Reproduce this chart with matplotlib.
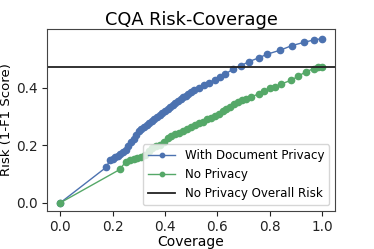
import matplotlib
matplotlib.use('Agg')
import matplotlib.pyplot as plt

# coverage / risk points
cov_doc = [0.0, 0.175, 0.19, 0.20, 0.21, 0.22, 0.23, 0.24, 0.25, 0.26, 0.27, 0.28,
           0.29, 0.30, 0.31, 0.32, 0.33, 0.34, 0.35, 0.36, 0.37, 0.38, 0.39, 0.40,
           0.41, 0.42, 0.43, 0.44, 0.45, 0.46, 0.47, 0.48, 0.49, 0.50, 0.51, 0.53,
           0.55, 0.57, 0.59, 0.61, 0.63, 0.66, 0.69, 0.72, 0.76, 0.79, 0.84, 0.885,
           0.93, 0.97, 1.0]
risk_doc = [0.0, 0.123, 0.148, 0.152, 0.158, 0.163, 0.170, 0.177, 0.185, 0.198, 0.210,
            0.220, 0.235, 0.248, 0.256, 0.262, 0.270, 0.278, 0.284, 0.290, 0.298, 0.305,
            0.312, 0.320, 0.327, 0.332, 0.338, 0.345, 0.352, 0.360, 0.366, 0.372, 0.378,
            0.386, 0.392, 0.400, 0.408, 0.417, 0.428, 0.436, 0.447, 0.464, 0.476, 0.490,
            0.504, 0.516, 0.530, 0.546, 0.557, 0.566, 0.570]

cov_np = [0.0, 0.228, 0.25, 0.265, 0.28, 0.295, 0.31, 0.325, 0.34, 0.35, 0.365, 0.38,
          0.395, 0.41, 0.425, 0.44, 0.455, 0.47, 0.485, 0.50, 0.515, 0.53, 0.545, 0.56,
          0.575, 0.59, 0.605, 0.62, 0.635, 0.65, 0.665, 0.68, 0.695, 0.71, 0.73, 0.76,
          0.78, 0.80, 0.82, 0.845, 0.88, 0.91, 0.94, 0.97, 0.985, 1.0]
risk_np = [0.0, 0.116, 0.143, 0.148, 0.152, 0.156, 0.160, 0.165, 0.180, 0.192, 0.197,
           0.202, 0.210, 0.225, 0.231, 0.238, 0.244, 0.250, 0.258, 0.264, 0.270, 0.276,
           0.282, 0.290, 0.296, 0.302, 0.310, 0.319, 0.327, 0.334, 0.342, 0.350, 0.356,
           0.360, 0.368, 0.379, 0.390, 0.398, 0.402, 0.413, 0.425, 0.440, 0.456, 0.466,
           0.470, 0.472]

overall_risk = 0.472

fig = plt.figure(figsize=(3.74, 2.49), dpi=100)
ax = fig.add_axes([0.126, 0.153, 0.770, 0.731])

ax.plot(cov_doc, risk_doc, marker='o', markersize=4.5, linewidth=1,
        color='#4C72B0', label='With Document Privacy')
ax.plot(cov_np, risk_np, marker='o', markersize=4.5, linewidth=1,
        color='#55A868', label='No Privacy')
ax.axhline(overall_risk, color='#222222', linewidth=1.3, label='No Privacy Overall Risk')

ax.set_xlim(-0.05, 1.05)
ax.set_ylim(-0.028, 0.604)
ax.set_xticks([0.0, 0.2, 0.4, 0.6, 0.8, 1.0])
ax.set_yticks([0.0, 0.2, 0.4])
ax.tick_params(labelsize=9.8, colors='#222222', pad=3)
for s in ax.spines.values():
    s.set_color('#444444')

ax.set_title('CQA Risk-Coverage', fontsize=12.8, pad=3)
ax.set_xlabel('Coverage', fontsize=10)
ax.set_ylabel('Risk (1-F1 Score)', fontsize=9.5)
ax.xaxis.set_label_coords(0.5, -0.13)
ax.yaxis.set_label_coords(-0.118, 0.5)
ax.legend(loc='lower right', fontsize=8.6, markerscale=0.7, handlelength=2.3)

fig.savefig('out.png', dpi=100)
